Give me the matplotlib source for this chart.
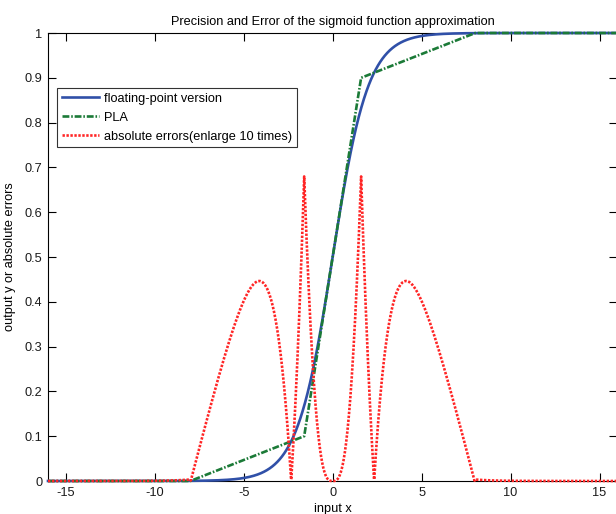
import numpy as np
import matplotlib
matplotlib.use("Agg")
import matplotlib.pyplot as plt

plt.rcParams['font.family'] = ['Liberation Sans', 'DejaVu Sans']
plt.rcParams['axes.unicode_minus'] = False

# Input range (x axis)
x_min, x_max = -16, 16
x = np.linspace(x_min, x_max, 2001)

# PLA (piecewise linear approximation) breakpoints
pla_x = [-16, -8, -1.6, 1.6, 8, 16]
pla_y = [0.0, 0.0, 0.1, 0.9, 1.0, 1.0]

error_scale = 10  # "enlarge 10 times"

x_ticks = [-15, -10, -5, 0, 5, 10, 15]
y_ticks = [0, 0.1, 0.2, 0.3, 0.4, 0.5, 0.6, 0.7, 0.8, 0.9, 1]
y_tick_labels = ["0", "0.1", "0.2", "0.3", "0.4", "0.5", "0.6", "0.7", "0.8", "0.9", "1"]

sig = 1.0 / (1.0 + np.exp(-x))
pla = np.interp(x, pla_x, pla_y)
err = np.abs(sig - pla) * error_scale

W, H = 616, 514
fig = plt.figure(figsize=(W / 100, H / 100), dpi=100)
left_px, right_px, top_px, bot_px = 48, 617.3, 33, 481
ax = fig.add_axes([left_px / W, 1 - bot_px / H, (right_px - left_px) / W, (bot_px - top_px) / H])

ax.plot(x, sig, color='#3050a8', lw=1.9, label='floating-point version', clip_on=False, zorder=3)
ax.plot(x, pla, color='#1b7a37', lw=1.9, linestyle=(0, (2.6, 0.7, 0.6, 0.7)), label='PLA', clip_on=False, zorder=4)
ax.plot(x, err, color='#ff2525', lw=1.9, linestyle=(0, (0.9, 0.6)), label='absolute errors(enlarge 10 times)', clip_on=False, zorder=5)

ax.set_xlim(x_min, x_max)
ax.set_ylim(0, 1)
ax.set_xticks(x_ticks)
ax.set_yticks(y_ticks)
ax.set_yticklabels(y_tick_labels)
ax.tick_params(direction='in', top=True, right=True, length=5.5, width=0.8, labelsize=9.2, pad=4,
               labelcolor='#1a1a1a')
for s in ax.spines.values():
    s.set_linewidth(0.8)

ax.set_title('Precision and Error of the sigmoid function approximation', fontsize=9.2, pad=6)
ax.set_xlabel('input x', fontsize=9.2, labelpad=3)
ax.set_ylabel('output y or absolute errors', fontsize=9.2, labelpad=6)

leg = ax.legend(loc='upper left', bbox_to_anchor=(0.016, 0.877), fontsize=9.2, frameon=True, fancybox=False,
                edgecolor='black', handlelength=2.9, handletextpad=0.45, borderpad=0.35, labelspacing=0.55,
                borderaxespad=0)
leg.get_frame().set_linewidth(0.8)

fig.savefig('out.png', dpi=100)
